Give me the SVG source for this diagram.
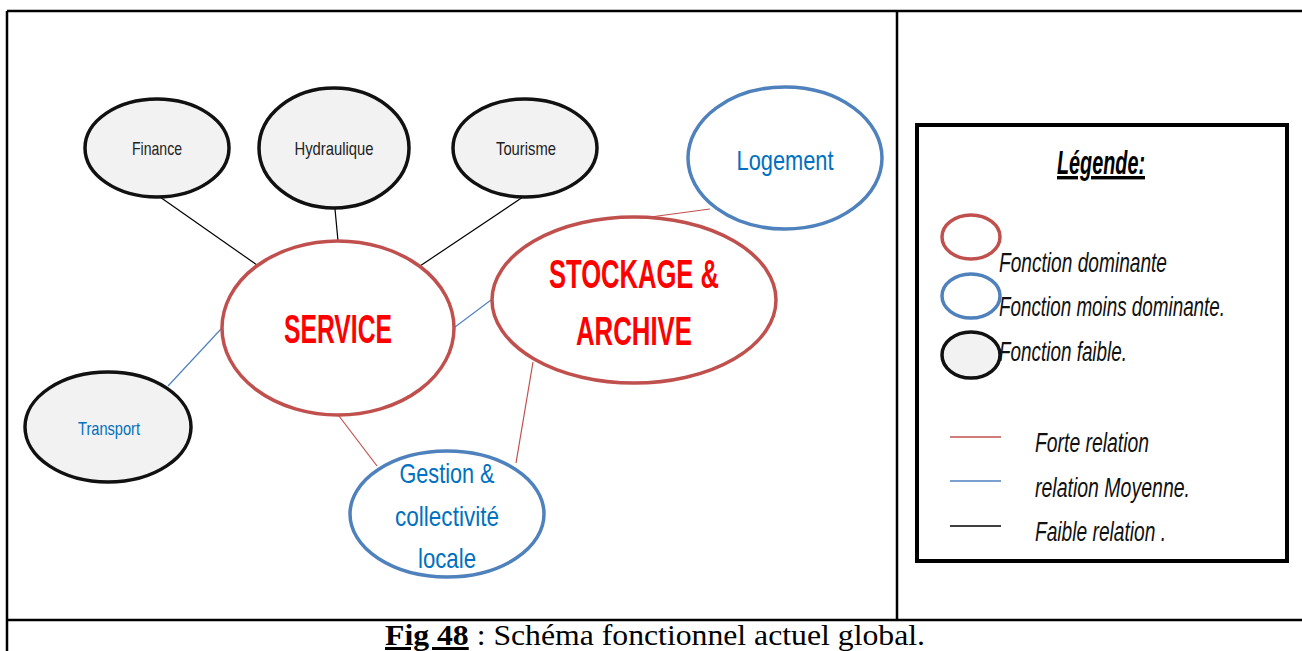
<svg xmlns="http://www.w3.org/2000/svg" width="1302" height="651" viewBox="0 0 1302 651">
<style>
.frame{stroke:#000;stroke-width:2.5;fill:none}
.weak{fill:#f2f2f2;stroke:#111;stroke-width:3.5}
.dom{fill:#fff;stroke:#c0504d;stroke-width:3.5}
.mid{fill:#fff;stroke:#4f81bd;stroke-width:3.5}
.cr{stroke:#c0504d;stroke-width:1.2}
.cb{stroke:#4f81bd;stroke-width:1.2}
.ck{stroke:#000;stroke-width:1.2}
text{font-family:"Liberation Sans",Arial,sans-serif}
.sm{font-size:19px;fill:#222;text-anchor:middle}
.bl{fill:#0070c0;text-anchor:middle;font-size:28px}
.big{fill:#ff0000;font-weight:bold;font-size:40px;text-anchor:middle}
.leg{font-size:27px;font-style:italic;fill:#111}
.cap{font-family:"Liberation Serif","Times New Roman",serif;font-size:30px;fill:#000}
</style>
<rect width="1302" height="651" fill="#fff"/>
<g id="frame">
<line class="frame" x1="7" y1="11" x2="1302" y2="11"/>
<line class="frame" x1="7" y1="11" x2="7" y2="651"/>
<line class="frame" x1="897" y1="11" x2="897" y2="620"/>
<line class="frame" x1="7" y1="620" x2="1302" y2="620"/>
</g>
<g id="connectors">
<line class="ck" x1="160" y1="197" x2="257" y2="265"/>
<line class="ck" x1="335" y1="209" x2="338" y2="241"/>
<line class="ck" x1="523" y1="197" x2="420" y2="266"/>
<line class="cr" x1="710" y1="209" x2="643" y2="218"/>
<line class="cb" x1="455" y1="327" x2="491" y2="300"/>
<line class="cb" x1="168" y1="386" x2="221" y2="329"/>
<line class="cr" x1="339" y1="416" x2="377" y2="466"/>
<line class="cr" x1="533" y1="362" x2="516" y2="463"/>
</g>
<g id="finance"><ellipse class="weak" cx="157" cy="148" rx="72" ry="49"/><text class="sm" x="157" y="155" textLength="50" lengthAdjust="spacingAndGlyphs">Finance</text></g>
<g id="hydraulique"><ellipse class="weak" cx="334" cy="148" rx="75" ry="60"/><text class="sm" x="334" y="155" textLength="79" lengthAdjust="spacingAndGlyphs">Hydraulique</text></g>
<g id="tourisme"><ellipse class="weak" cx="525" cy="148" rx="72" ry="49"/><text class="sm" x="526" y="155" textLength="60" lengthAdjust="spacingAndGlyphs">Tourisme</text></g>
<g id="logement"><ellipse class="mid" cx="785" cy="158" rx="97" ry="71"/><text class="bl" x="785" y="170" textLength="97" lengthAdjust="spacingAndGlyphs">Logement</text></g>
<g id="service"><ellipse class="dom" cx="338" cy="328" rx="116" ry="87"/><text class="big" x="338" y="343" textLength="108" lengthAdjust="spacingAndGlyphs">SERVICE</text></g>
<g id="stockage"><ellipse class="dom" cx="634" cy="300" rx="142" ry="83"/><text class="big" x="634" y="288" textLength="170" lengthAdjust="spacingAndGlyphs">STOCKAGE &amp;</text><text class="big" x="634" y="345" textLength="116" lengthAdjust="spacingAndGlyphs">ARCHIVE</text></g>
<g id="transport"><ellipse class="weak" cx="108" cy="427" rx="83" ry="55"/><text class="sm" x="109" y="435" style="fill:#0070c0" textLength="62" lengthAdjust="spacingAndGlyphs">Transport</text></g>
<g id="gestion"><ellipse class="mid" cx="447" cy="514" rx="97" ry="63"/><text class="bl" x="447" y="483" textLength="95" lengthAdjust="spacingAndGlyphs">Gestion &amp;</text><text class="bl" x="447" y="526" textLength="104" lengthAdjust="spacingAndGlyphs">collectivité</text><text class="bl" x="447" y="568" textLength="58" lengthAdjust="spacingAndGlyphs">locale</text></g>
<g id="legend">
<rect x="917" y="125" width="370" height="436" fill="#fff" stroke="#000" stroke-width="4"/>
<text x="1057" y="174" font-size="34" font-weight="bold" font-style="italic" text-decoration="underline" fill="#000" textLength="88" lengthAdjust="spacingAndGlyphs">Légende:</text>
<ellipse cx="971" cy="237" rx="29" ry="22" fill="none" stroke="#c0504d" stroke-width="3.5"/>
<text class="leg" x="999" y="272" textLength="168" lengthAdjust="spacingAndGlyphs">Fonction dominante</text>
<ellipse cx="971" cy="296" rx="29" ry="22" fill="none" stroke="#4f81bd" stroke-width="3.5"/>
<text class="leg" x="999" y="316" textLength="226" lengthAdjust="spacingAndGlyphs">Fonction moins dominante.</text>
<ellipse cx="971" cy="355" rx="29" ry="23" fill="#f2f2f2" stroke="#111" stroke-width="3.5"/>
<text class="leg" x="999" y="361" textLength="128" lengthAdjust="spacingAndGlyphs">Fonction faible.</text>
<line x1="950" y1="437" x2="1001" y2="437" stroke="#c0504d" stroke-width="1.5"/>
<text class="leg" x="1035" y="452" textLength="114" lengthAdjust="spacingAndGlyphs">Forte relation</text>
<line x1="950" y1="481" x2="1001" y2="481" stroke="#4f81bd" stroke-width="1.5"/>
<text class="leg" x="1035" y="497" textLength="155" lengthAdjust="spacingAndGlyphs">relation Moyenne.</text>
<line x1="950" y1="526" x2="1001" y2="526" stroke="#000" stroke-width="1.5"/>
<text class="leg" x="1035" y="541" textLength="131" lengthAdjust="spacingAndGlyphs">Faible relation .</text>
</g>
<g id="caption">
<text class="cap" x="385" y="645" textLength="540" lengthAdjust="spacingAndGlyphs"><tspan font-weight="bold" text-decoration="underline">Fig 48</tspan> : Schéma fonctionnel actuel global.</text>
</g>
</svg>
